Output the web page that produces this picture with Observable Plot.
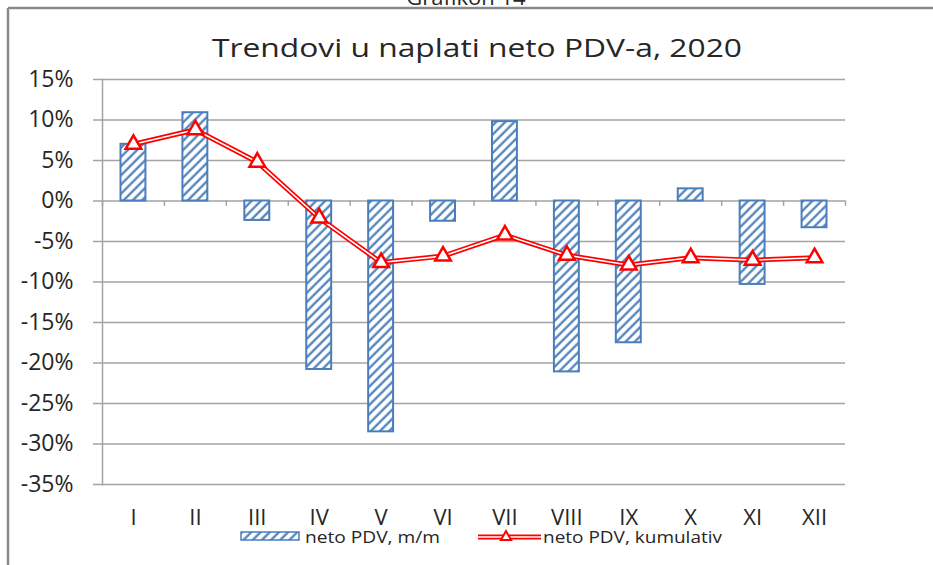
<!DOCTYPE html>
<html>
<head>
<meta charset="utf-8">
<script src="https://cdn.jsdelivr.net/npm/d3@7"></script>
<script src="https://cdn.jsdelivr.net/npm/@observablehq/plot@0.6"></script>
<style>
  html, body { margin: 0; padding: 0; background: white; }
  #chart { position: relative; width: 933px; height: 565px; overflow: hidden; }
</style>
</head>
<body>
<div id="chart"></div>
<script>
const months = ["I", "II", "III", "IV", "V", "VI", "VII", "VIII", "IX", "X", "XI", "XII"];
const monthly = [7.0, 10.9, -2.4, -20.8, -28.5, -2.5, 9.8, -21.1, -17.5, 1.5, -10.3, -3.3];
const cumulative = [7.0, 8.8, 4.8, -2.1, -7.6, -6.8, -4.2, -6.7, -7.9, -7.0, -7.3, -7.0];
const yTicks = [15, 10, 5, 0, -5, -10, -15, -20, -25, -30, -35];
const title = "Trendovi u naplati neto PDV-a, 2020";
const topLabel = "Grafikon 14";
const seriesNames = ["neto PDV, m/m", "neto PDV, kumulativ"];

const data = months.map((m, i) => ({month: m, monthly: monthly[i], cumulative: cumulative[i]}));

const W = 933, H = 565;
const mL = 102, mR = 88, mT = 79, mB = 81;
const bw = (W - mL - mR) / months.length;
const grid = "#a3a3a3";
const blue = "#4a7ebb";
const red = "#ff0000";
const ink = "#262626";
const font = "'Open Sans', sans-serif";

const chart = Plot.plot({
  width: W, height: H,
  marginLeft: mL, marginRight: mR, marginTop: mT, marginBottom: mB,
  style: {fontFamily: font, fontSize: "23px", color: ink, background: "white"},
  x: {type: "band", domain: months, padding: 0, round: false, label: null},
  y: {domain: [-35, 15], label: null},
  marks: [
    Plot.gridY(yTicks, {stroke: grid, strokeOpacity: 1, strokeWidth: 1.5}),
    Plot.axisY({ticks: yTicks, tickSize: 9, tickPadding: 20, tickFormat: d => d + "%", stroke: grid, strokeWidth: 1.5, fontSize: 23, label: null}),
    Plot.frame({anchor: "left", stroke: grid, strokeWidth: 1.5}),
    Plot.ruleX(months, {x: d => d, dx: -bw / 2, y1: 0, y2: -0.65, stroke: grid, strokeWidth: 1.5}),
    Plot.ruleX(months.slice(-1), {x: d => d, dx: bw / 2, y1: 0, y2: -0.65, stroke: grid, strokeWidth: 1.5}),
    Plot.barY(data, {x: "month", y: "monthly", fill: "url(#hatch)", stroke: blue, strokeWidth: 2, insetLeft: 18.5, insetRight: 18.5}),
    Plot.lineY(data, {x: "month", y: "cumulative", stroke: red, strokeWidth: 5}),
    Plot.lineY(data, {x: "month", y: "cumulative", stroke: "white", strokeWidth: 1.6}),
    Plot.dot(data, {x: "month", y: "cumulative", symbol: "triangle", r: 5.8, fill: "white", stroke: red, strokeWidth: 2.5}),
    Plot.axisX({tickSize: 0, tickPadding: 25, fontSize: 22, label: null})
  ]
});

const svg = d3.select(chart);
const defs = svg.insert("defs", ":first-child");
const pat = defs.append("pattern")
  .attr("id", "hatch").attr("patternUnits", "userSpaceOnUse")
  .attr("width", 6.5).attr("height", 6.5)
  .attr("patternTransform", "rotate(45)");
pat.append("rect").attr("width", 6.5).attr("height", 6.5).attr("fill", "white");
pat.append("line").attr("x1", 1.5).attr("y1", 0).attr("x2", 1.5).attr("y2", 6.5)
  .attr("stroke", blue).attr("stroke-width", 2.2);

// outer frame (top + left)
svg.append("line").attr("x1", 8).attr("y1", 8).attr("x2", W).attr("y2", 8).attr("stroke", "#8a8a8a").attr("stroke-width", 2.5);
svg.append("line").attr("x1", 8).attr("y1", 8).attr("x2", 8).attr("y2", H).attr("stroke", "#8a8a8a").attr("stroke-width", 2.5);

// top caption (cut off at the page top, as in the reference)
svg.append("text").attr("x", 466).attr("y", 5).attr("text-anchor", "middle")
  .attr("font-family", font).attr("font-size", 22).attr("fill", ink).text(topLabel);

// title
svg.append("text").attr("x", 212).attr("y", 57).attr("text-anchor", "start")
  .attr("textLength", 530).attr("lengthAdjust", "spacingAndGlyphs")
  .attr("font-family", font).attr("font-size", 26).attr("fill", ink).text(title);

// legend
const lg = svg.append("g").attr("font-family", font).attr("font-size", 17).attr("fill", ink).attr("text-anchor", "start");
lg.append("rect").attr("x", 241).attr("y", 532).attr("width", 58).attr("height", 8)
  .attr("fill", "url(#hatch)").attr("stroke", blue).attr("stroke-width", 1.5);
lg.append("text").attr("x", 305).attr("y", 543).attr("textLength", 135).attr("lengthAdjust", "spacingAndGlyphs").text(seriesNames[0]);
lg.append("line").attr("x1", 478).attr("x2", 541).attr("y1", 537).attr("y2", 537).attr("stroke", red).attr("stroke-width", 5);
lg.append("line").attr("x1", 478).attr("x2", 541).attr("y1", 537).attr("y2", 537).attr("stroke", "white").attr("stroke-width", 1.6);
lg.append("path").attr("d", d3.symbol(d3.symbolTriangle, 45)()).attr("transform", "translate(506,537)")
  .attr("fill", "white").attr("stroke", red).attr("stroke-width", 2);
lg.append("text").attr("x", 543).attr("y", 543).attr("textLength", 179).attr("lengthAdjust", "spacingAndGlyphs").text(seriesNames[1]);

document.getElementById("chart").appendChild(chart);
</script>
</body>
</html>
